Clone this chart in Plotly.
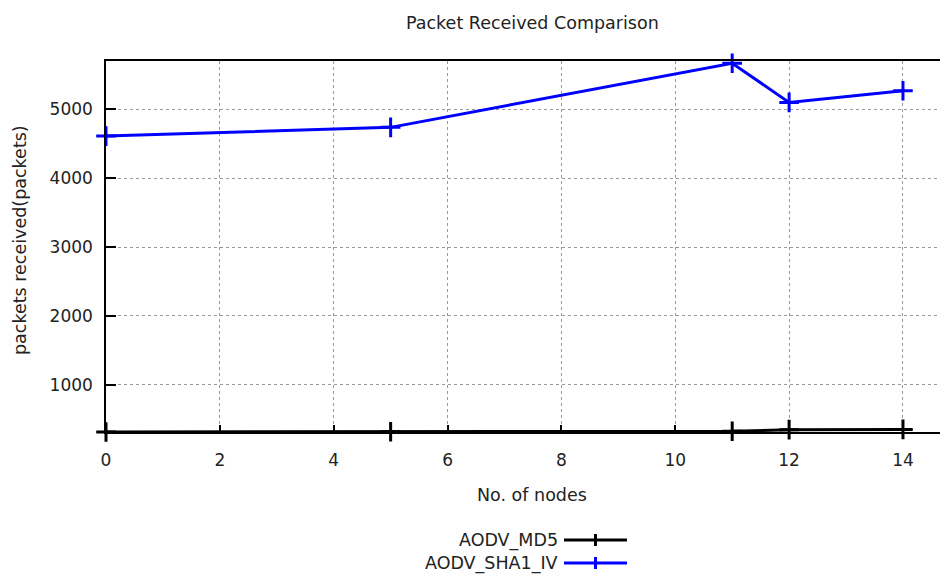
import plotly.graph_objects as go

nodes = [0, 5, 11, 12, 14]
aodv_md5 = [318, 322, 328, 352, 356]
aodv_sha1_iv = [4608, 4735, 5664, 5097, 5266]
series_names = ["AODV_MD5", "AODV_SHA1_IV"]
series_colors = ["#000000", "#0000ff"]
x_ticks = [0, 2, 4, 6, 8, 10, 12, 14]
y_ticks = [1000, 2000, 3000, 4000, 5000]

# page body has an 8px margin; figure coordinates are offset by it
OFF = 8
W, H = 968 - OFF, 575 - OFF
L, R, T, B = 106 - OFF, 0, 61 - OFF, 143
FONT = "DejaVu Sans"
FS = 17.5
XMAX = 14 + (968 - 903) / 56.9

fig = go.Figure()
for name, vals, col in zip(series_names, [aodv_md5, aodv_sha1_iv], series_colors):
    fig.add_trace(go.Scatter(
        x=nodes, y=vals, mode="lines+markers", name=name,
        line=dict(color=col, width=3),
        marker=dict(symbol="cross-thin", size=14, line=dict(color=col, width=3), color=col),
        showlegend=False, cliponaxis=False,
    ))

pw = W - L - R
ph = H - T - B
def px(x):  # screen px -> paper
    return (x - OFF - L) / pw
def py(y):
    return (H - B - (y - OFF)) / ph

for i, (name, col) in enumerate(zip(series_names, series_colors)):
    yy = 540 + i * 23
    fig.add_annotation(x=px(560), y=py(yy), xref="paper", yref="paper", text=name,
                       showarrow=False, xanchor="right", yanchor="middle",
                       font=dict(family=FONT, size=FS, color="#222"))
    fig.add_shape(type="line", xref="paper", yref="paper", x0=px(564), x1=px(627),
                  y0=py(yy), y1=py(yy), line=dict(color=col, width=3))
    fig.add_shape(type="line", xref="paper", yref="paper", x0=px(595.5), x1=px(595.5),
                  y0=py(yy - 6), y1=py(yy + 6), line=dict(color=col, width=3))

fig.add_annotation(x=px(20), y=py(240), xref="paper", yref="paper",
                   text="packets received(packets)", textangle=-90, showarrow=False,
                   xanchor="center", yanchor="middle",
                   font=dict(family=FONT, size=FS, color="#222"))
fig.add_annotation(x=px(532), y=py(495), xref="paper", yref="paper",
                   text="No. of nodes", showarrow=False,
                   xanchor="center", yanchor="middle",
                   font=dict(family=FONT, size=FS, color="#222"))
fig.add_annotation(x=px(532), y=py(23), xref="paper", yref="paper",
                   text="Packet Received Comparison", showarrow=False,
                   xanchor="center", yanchor="middle",
                   font=dict(family=FONT, size=FS, color="#222"))

fig.update_layout(
    width=W, height=H,
    margin=dict(l=L, r=R, t=T, b=B),
    paper_bgcolor="white", plot_bgcolor="white",
    font=dict(family=FONT, size=17, color="#222"),
    xaxis=dict(range=[0, XMAX], tickvals=x_ticks, ticks="inside", ticklen=7, tickwidth=1.5,
               tickcolor="black", showline=True, linecolor="black", linewidth=1.5, mirror=True,
               showgrid=True, gridcolor="#999", griddash="dot", gridwidth=1, zeroline=False,
               ticklabelstandoff=12),
    yaxis=dict(range=[318, 5697], tickvals=y_ticks, ticks="inside", ticklen=10, tickwidth=1.5,
               tickcolor="black", showline=True, linecolor="black", linewidth=1.5,
               showgrid=True, gridcolor="#999", griddash="dot", gridwidth=1, zeroline=False,
               ticklabelstandoff=8),
)

fig.write_html("out.html")
